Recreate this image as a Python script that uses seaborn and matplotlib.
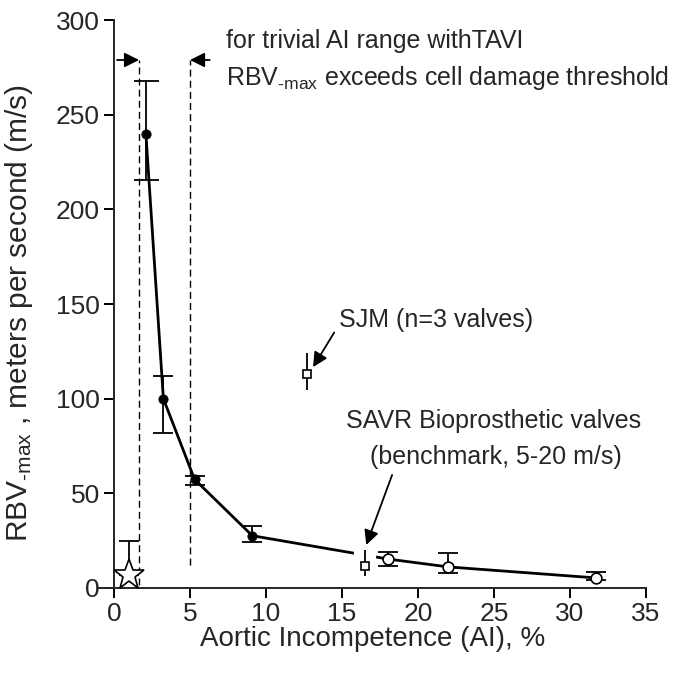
import numpy as np
import pandas as pd
import seaborn as sns
import matplotlib.pyplot as plt

# values
ai_tavi = [2.1, 3.25, 5.3, 9.1]
rbv_tavi = [240, 100, 57.4, 27.6]
tavi_hi = [268, 112, 59.2, 32.9]
tavi_lo = [215.5, 82, 54.4, 24.5]

ai_savr = [18.0, 22.0, 31.7]
rbv_savr = [15.3, 11.1, 5.3]
savr_hi = [19.2, 18.7, 8.6]
savr_lo = [11.8, 7.9, 4.2]

bench_ai = [16.5]
bench_rbv = [11.6]
bench_lo = [6.3]
bench_hi = [20.0]

sjm_ai = [12.7]
sjm_rbv = [113]
sjm_lo = [104.6]
sjm_hi = [124]

star_ai = [1.0]
star_rbv = [7]
star_hi = [25]

range_ai = [1.65, 5.0]
range_bottom = [1.5, 12]
range_top = 279

x_ticks = [0, 5, 10, 15, 20, 25, 30, 35]
y_ticks = [0, 50, 100, 150, 200, 250, 300]

sns.set_style("ticks")
plt.rcParams['font.family'] = ['Liberation Sans', 'DejaVu Sans']
plt.rcParams['mathtext.fontset'] = 'custom'
plt.rcParams['mathtext.rm'] = 'Liberation Sans'
plt.rcParams['mathtext.it'] = 'Liberation Sans'

fig = plt.figure(figsize=(6.78, 6.75), dpi=100)
ax = fig.add_axes([0.1457, 0.129, 0.807, 0.841])

curve = pd.DataFrame({'ai': ai_tavi + ai_savr, 'rbv': rbv_tavi + rbv_savr})
sns.lineplot(data=curve, x='ai', y='rbv', color='black', lw=2.0, ax=ax, zorder=3)

# range markers
ax.vlines(range_ai, range_bottom, range_top, colors='black', linestyles=(0, (5, 3)), lw=1.0, zorder=1)

# error bars
tavi_err = [np.array(rbv_tavi) - np.array(tavi_lo), np.array(tavi_hi) - np.array(rbv_tavi)]
ax.errorbar(ai_tavi[:1], rbv_tavi[:1], yerr=[tavi_err[0][:1], tavi_err[1][:1]], fmt='none',
            ecolor='black', elinewidth=1.3, capsize=9, capthick=1.3, zorder=2)
ax.errorbar(ai_tavi[1:], rbv_tavi[1:], yerr=[tavi_err[0][1:], tavi_err[1][1:]], fmt='none',
            ecolor='black', elinewidth=1.3, capsize=7.5, capthick=1.3, zorder=2)
savr_err = [np.array(rbv_savr) - np.array(savr_lo), np.array(savr_hi) - np.array(rbv_savr)]
ax.errorbar(ai_savr, rbv_savr, yerr=savr_err, fmt='none',
            ecolor='black', elinewidth=1.3, capsize=7.5, capthick=1.3, zorder=2)

sns.scatterplot(x=ai_tavi, y=rbv_tavi, color='black', s=45, edgecolor='black', ax=ax, zorder=4)
sns.scatterplot(x=ai_savr, y=rbv_savr, color='white', s=60, edgecolor='black', linewidth=1.2, ax=ax, zorder=4)

# benchmark square (cuts the line)
ax.vlines(bench_ai, bench_lo, bench_hi, colors='white', lw=16, zorder=5)
ax.vlines(bench_ai, bench_lo, bench_hi, colors='black', lw=1.3, zorder=6)
ax.plot(bench_ai, bench_rbv, 's', ms=6, mfc='white', mec='black', mew=1.2, zorder=7)

# SJM square
ax.vlines(sjm_ai, sjm_lo, sjm_hi, colors='black', lw=1.3, zorder=6)
ax.plot(sjm_ai, sjm_rbv, 's', ms=6, mfc='white', mec='black', mew=1.2, zorder=7)

# star
ax.errorbar(star_ai, star_rbv, yerr=[[0], [star_hi[0] - star_rbv[0]]], fmt='none',
            ecolor='black', elinewidth=1.3, capsize=7.5, capthick=1.3, zorder=2)
ax.plot(star_ai, star_rbv, '*', ms=23, mfc='white', mec='black', mew=1.2, zorder=7, clip_on=False)

fs = 18
sub = r'RBV$_{\text{-max}}$'
arrow = dict(arrowstyle='-|>', color='black', lw=1.3, mutation_scale=22, shrinkA=0, shrinkB=0)
ax.annotate('', xy=(range_ai[0], range_top), xytext=(0.2, range_top), arrowprops=arrow)
ax.annotate('', xy=(range_ai[1], range_top), xytext=(6.3, range_top), arrowprops=arrow)
ax.text(7.37, 289, 'for trivial AI range withTAVI', fontsize=fs, va='center', ha='left')
ax.text(7.37, 269.5, sub + ' exceeds cell damage threshold', fontsize=fs,
        va='center', ha='left')

ax.annotate('SJM (n=3 valves)', xy=(13.1, 116.7), xytext=(14.8, 141.6), fontsize=fs,
            va='center', ha='left',
            arrowprops=dict(arrowstyle='-|>', color='black', lw=1.3, mutation_scale=22,
                            shrinkA=2, shrinkB=0, relpos=(0, 0.3)))
ax.text(25.0, 88.2, 'SAVR Bioprosthetic valves', fontsize=fs, ha='center', va='center')
ax.text(25.1, 69.0, '(benchmark, 5-20 m/s)', fontsize=fs, ha='center', va='center')
ax.annotate('', xy=(16.6, 22.7), xytext=(18.3, 59.7),
            arrowprops=dict(arrowstyle='-|>', color='black', lw=1.3, mutation_scale=22,
                            shrinkA=0, shrinkB=0))

ax.set_xlim(-1, 35)
ax.set_ylim(0, 300)
ax.set_xticks(x_ticks)
ax.set_yticks(y_ticks)
ax.spines['left'].set_position(('data', 0))
ax.spines['top'].set_visible(False)
ax.spines['right'].set_visible(False)
for sp in ['left', 'bottom']:
    ax.spines[sp].set_linewidth(1.4)
ax.tick_params(direction='out', length=7, width=1.4, labelsize=19, color='black', pad=3)
ax.set_xlabel('Aortic Incompetence (AI), %', fontsize=20, labelpad=0)
ax.set_ylabel(sub + ' , meters per second (m/s)', fontsize=21.5)
ax.yaxis.set_label_coords(-0.117, 0.484)

plt.savefig('out.png', dpi=100)
